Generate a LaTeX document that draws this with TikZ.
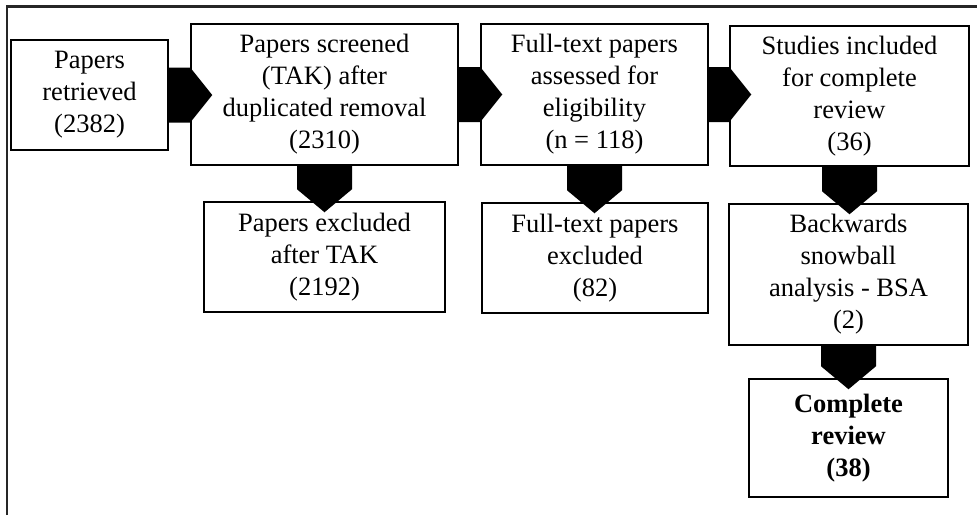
\documentclass[tikz,border=0pt]{standalone}
\usepackage{fontspec}
\setmainfont{Liberation Serif}
\usetikzlibrary{calc}
\tikzset{
  x=1pt, y=1pt,
  flowbox/.style={draw=black, line width=1.5pt, fill=white, align=center, inner sep=0pt,
    font=\fontsize{26.5}{32}\selectfont},
  frameline/.style={draw=black!85, line width=2.2pt},
  blockarrow/.style={fill=black, draw=none}
}
\newcommand{\harrowto}[2]{%
  \fill[blockarrow] let \p1=(#1.east), \p2=(#2.west) in
    (\x1,\y1+27.5) -- (\x2,\y1+27.5) -- (\x2+22,\y1) -- (\x2,\y1-27.5) -- (\x1,\y1-27.5) -- cycle;}
\newcommand{\varrowto}[2]{%
  \fill[blockarrow] let \p1=(#1.south), \p2=(#2.north) in
    (\x1-27.5,\y1) -- (\x1+27.5,\y1) -- (\x1+27.5,\y2+12) -- (\x1,\y2-11) -- (\x1-27.5,\y2+12) -- cycle;}
\begin{document}
\begin{tikzpicture}
\useasboundingbox (0,0) rectangle (977,-515);
\draw[frameline] (7,-515) -- (7,-6.5) -- (977,-6.5);

\node[flowbox, minimum width=157, minimum height=110] (b1) at (89.5,-95) {Papers\\retrieved\\(2382)};
\node[flowbox, minimum width=267, minimum height=141] (b2) at (324.5,-94.5) {Papers screened\\(TAK) after\\duplicated removal\\(2310)};
\node[flowbox, minimum width=227, minimum height=141] (b3) at (594.5,-94.5) {Full-text papers\\assessed for\\eligibility\\(n = 118)};
\node[flowbox, minimum width=239, minimum height=140] (b4) at (849.5,-96) {Studies included\\for complete\\review\\(36)};
\node[flowbox, minimum width=241, minimum height=110] (e2) at (324.5,-257) {Papers excluded\\after TAK\\(2192)};
\node[flowbox, minimum width=226, minimum height=110] (e3) at (595,-258) {Full-text papers\\excluded\\(82)};
\node[flowbox, minimum width=239, minimum height=141] (bsa) at (848.5,-274.5) {Backwards\\snowball\\analysis - BSA\\(2)};
\node[flowbox, minimum width=199, minimum height=118, font=\fontsize{26.5}{32}\selectfont\bfseries] (cr) at (848.5,-438) {Complete\\review\\(38)};

\harrowto{b1}{b2}
\harrowto{b2}{b3}
\harrowto{b3}{b4}
\varrowto{b2}{e2}
\varrowto{b3}{e3}
\varrowto{b4}{bsa}
\varrowto{bsa}{cr}
\end{tikzpicture}
\end{document}
